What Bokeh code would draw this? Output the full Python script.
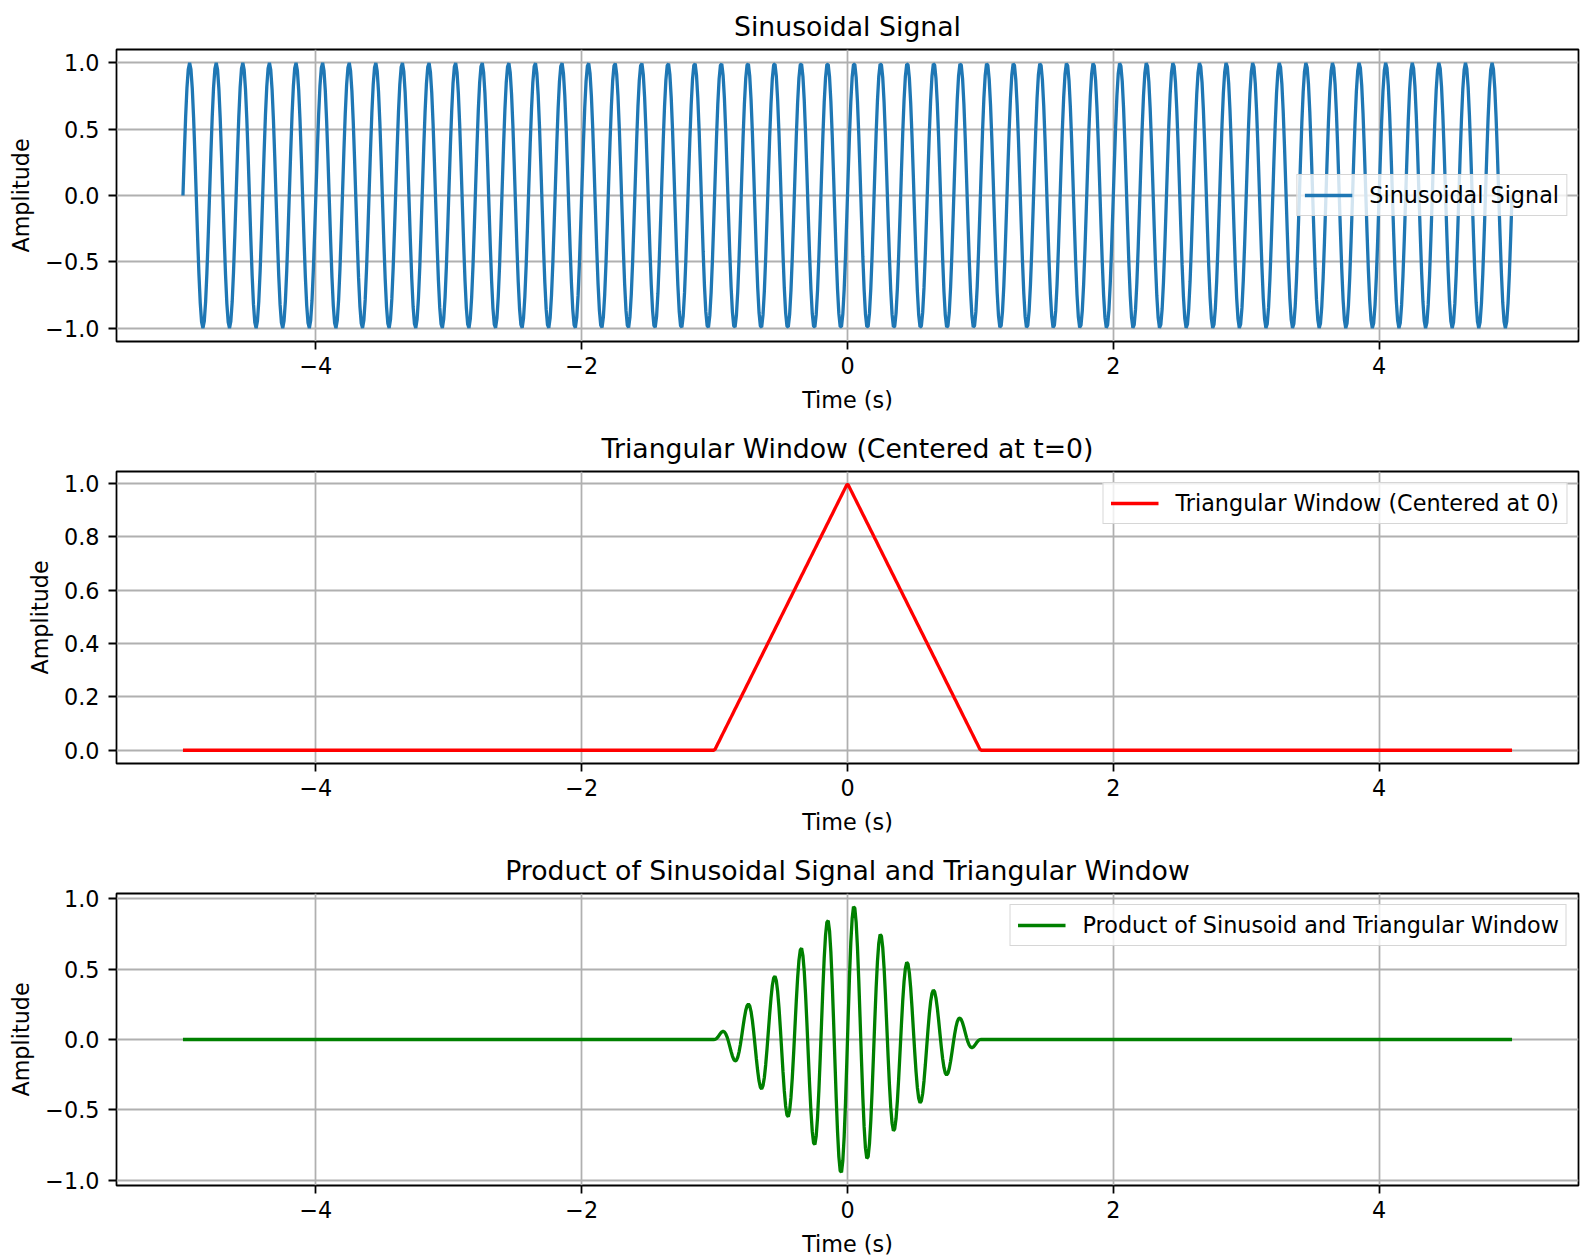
import numpy as np
from bokeh.plotting import figure
from bokeh.layouts import column
from bokeh.models import Range1d, FixedTicker, CustomJSTickFormatter
from bokeh.embed import file_html
from bokeh.resources import INLINE

# ---- signal parameters ----
t_start, t_end = -5.0, 5.0
n_samples = 1000
signal_freq = 5.0          # Hz  (50 cycles over 10 s)
signal_amp = 1.0
window_center = 0.0
window_half_width = 1.0

titles = ["Sinusoidal Signal",
          "Triangular Window (Centered at t=0)",
          "Product of Sinusoidal Signal and Triangular Window"]
legend_labels = ["Sinusoidal Signal",
                 "Triangular Window (Centered at 0)",
                 "Product of Sinusoid and Triangular Window"]
colors = ["#1f77b4", "red", "green"]
x_ticks = [-4, -2, 0, 2, 4]
y_ticks_top = [-1.0, -0.5, 0.0, 0.5, 1.0]
y_ticks_mid = [0.0, 0.2, 0.4, 0.6, 0.8, 1.0]
y_ticks_bot = [-1.0, -0.5, 0.0, 0.5, 1.0]
legend_locs = ["center_right", "top_right", "top_right"]

t = np.linspace(t_start, t_end, n_samples)
sinusoid = signal_amp * np.sin(2 * np.pi * signal_freq * t)
tri_window = np.clip(1 - np.abs(t - window_center) / window_half_width, 0, None)
product = sinusoid * tri_window
series = [sinusoid, tri_window, product]
yticks = [y_ticks_top, y_ticks_mid, y_ticks_bot]

FONT = "DejaVu Sans"
FS = "22.3px"

xfmt = CustomJSTickFormatter(code="return (tick < 0 ? '\\u2212' : '') + Math.abs(tick).toFixed(0);")
yfmt_code = "return (tick < -1e-9 ? '\\u2212' : '') + Math.abs(tick).toFixed(1);"

def pad_range(lo, hi, frac=0.05):
    d = hi - lo
    return Range1d(lo - frac * d, hi + frac * d)

figs = []
for i in range(3):
    y = series[i]
    bottom = 81 if i < 2 else 72
    p = figure(frame_width=1462, frame_height=292,
               min_border_left=116, min_border_right=5,
               min_border_top=49, min_border_bottom=bottom,
               output_backend="svg", toolbar_location=None,
               x_range=pad_range(t.min(), t.max()),
               y_range=pad_range(float(y.min()), float(y.max())),
               title=titles[i])
    p.line(t, y, line_color=colors[i], line_width=3.3, legend_label=legend_labels[i])

    p.title.align = "center"
    p.title.text_font = FONT
    p.title.text_font_size = "26.7px"
    p.title.text_font_style = "normal"
    p.title.text_color = "black"
    p.title.standoff = 16

    p.outline_line_color = "black"
    p.outline_line_width = 1.76
    p.outline_line_alpha = 1.0
    p.background_fill_color = "white"
    p.border_fill_color = "white"

    p.xaxis.ticker = FixedTicker(ticks=x_ticks)
    p.xgrid.ticker = FixedTicker(ticks=x_ticks)
    p.yaxis.ticker = FixedTicker(ticks=yticks[i])
    p.ygrid.ticker = FixedTicker(ticks=yticks[i])
    p.xaxis.formatter = xfmt
    p.yaxis.formatter = CustomJSTickFormatter(code=yfmt_code)

    for ax in (p.xaxis[0], p.yaxis[0]):
        ax.axis_line_color = None
        ax.major_tick_line_color = "black"
        ax.major_tick_line_width = 1.76
        ax.major_tick_out = 8
        ax.major_tick_in = 0
        ax.minor_tick_line_color = None
        ax.major_label_text_font = FONT
        ax.major_label_text_font_size = FS
        ax.major_label_text_color = "black"
        ax.axis_label_text_font = FONT
        ax.axis_label_text_font_size = FS
        ax.axis_label_text_font_style = "normal"
        ax.axis_label_text_color = "black"
    p.xaxis.major_label_standoff = 7
    p.xaxis.axis_label_standoff = 10
    p.yaxis.major_label_standoff = 9
    p.yaxis.axis_label_standoff = 8
    p.xaxis.axis_label = "Time (s)"
    p.yaxis.axis_label = "Amplitude"

    for g in (p.xgrid[0], p.ygrid[0]):
        g.grid_line_color = "#b0b0b0"
        g.grid_line_width = 1.76

    lg = p.legend[0]
    lg.location = legend_locs[i]
    lg.margin = 11
    lg.padding = 7
    lg.glyph_width = 48
    lg.glyph_height = 20
    lg.label_standoff = 17
    lg.label_text_font = FONT
    lg.label_text_font_size = FS
    lg.label_text_color = "black"
    lg.border_line_color = "#cccccc"
    lg.border_line_alpha = 0.8
    lg.border_line_width = 1.76
    lg.background_fill_color = "white"
    lg.background_fill_alpha = 0.8
    figs.append(p)

layout = column(*figs, spacing=0)
open("out.html", "w").write(file_html(layout, INLINE))
